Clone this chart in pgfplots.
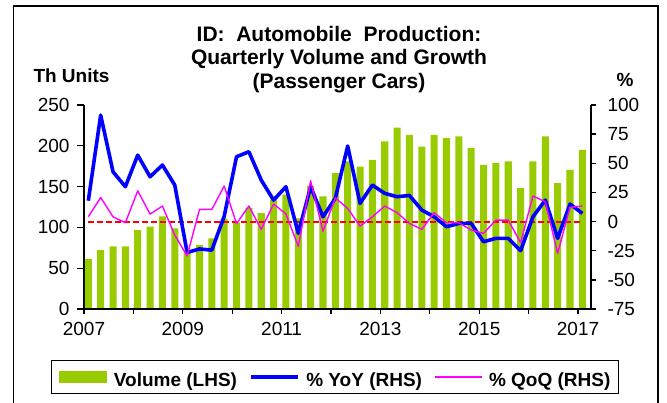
\documentclass[border=0pt]{standalone}
\usepackage{fontspec}
\setmainfont{Liberation Sans}
\usepackage{pgfplots}
\usepackage{pgfplotstable}
\pgfplotsset{compat=1.18}
\definecolor{vol}{HTML}{99CC00}
\definecolor{yoy}{HTML}{0000FF}
\definecolor{qoq}{HTML}{FF00FF}
\definecolor{zred}{RGB}{255,0,0}

% quarterly data, 2007Q1 = 0 ... 2017Q1 = 40
\pgfplotstableread{
i   vol    yoy    qoq
0   61.2   17.9   4.1
1   72.2   91.3   20.7
2   76.7   42.7   4.1
3   76.7   29.9   -1.0
4   96.7   57.0   26.4
5   101.0  38.4   6.4
6   113.4  48.5   13.3
7   98.7   31.3   -11.6
8   70.0   -26.5  -29.5
9   78.5   -23.5  10.4
10  86.5   -24.5  10.4
11  110.8  4.5    30.5
12  106.0  55.6   -1.8
13  123.7  59.9   13.3
14  117.5  35.6   -6.7
15  133.8  18.4   15.0
16  140.2  29.9   6.6
17  111.0  -10.1  -21.3
18  151.0  29.9   35.0
19  137.9  4.1    -8.3
20  166.5  20.0   20.3
21  181.0  64.8   11.3
22  174.6  15.6   -3.9
23  182.8  31.3   4.1
24  205.3  24.2   13.3
25  222.4  21.3   7.6
26  213.4  22.4   -1.6
27  199.1  9.9    -6.7
28  213.4  4.1    7.6
29  209.3  -4.4   -1.0
30  211.4  -1.6   -1.0
31  197.1  -1.6   -7.3
32  176.7  -17.3  -10.1
33  178.7  -14.4  1.3
34  180.8  -14.4  1.3
35  148.1  -25.0  -18.2
36  180.8  4.1    21.9
37  211.4  18.4   17.0
38  154.3  -14.4  -27.3
39  170.6  15.0   12.2
40  195.0  7.0    13.3
}\data

\pgfplotstableread{
x y
0 0
40 0
}\zeroline

\pgfplotsset{
  common/.style={
    at={(84pt,94pt)}, anchor=south west, scale only axis,
    width=507pt, height=204pt,
    xmin=-0.35, xmax=40.7,
    tick align=outside,
    axis line style={line width=1.3pt,-},
    tick style={line width=1.3pt,black},
    ticklabel style={font=\fontsize{19}{22}\selectfont},
    /pgf/number format/assume math mode=true,
  },
  lineleg/.style={legend image code/.code={\draw[##1] (0pt,0pt) -- (47pt,0pt);}},
  barleg/.style={legend image code/.code={\fill[vol] (0pt,-5.35pt) rectangle (46.7pt,5.35pt);}},
}

\begin{document}
\begin{tikzpicture}[x=1pt,y=1pt]
\useasboundingbox (0,0) rectangle (667,403);
\draw[line width=1.2pt] (13.7,-10) -- (13.7,397) -- (658,397) -- (658,-10);

\node[anchor=base,font=\fontsize{21}{24}\bfseries\selectfont] at (339,361.5) {ID:\ \ Automobile\ \ Production:};
\node[anchor=base,font=\fontsize{21}{24}\bfseries\selectfont] at (339,338) {Quarterly Volume and Growth};
\node[anchor=base,font=\fontsize{21}{24}\bfseries\selectfont] at (339,314.5) {(Passenger Cars)};
\node[anchor=base west,inner sep=0pt,font=\fontsize{19}{22}\bfseries\selectfont] at (33.3,320.3) {Th Units};
\node[anchor=base,inner sep=0pt,font=\fontsize{19}{22}\bfseries\selectfont] at (625,316) {\%};

% left axis: volume bars
\begin{axis}[common,
  ymin=0, ymax=250, ytick={0,50,...,250},
  axis x line=none, axis y line*=left,
  major tick length=7pt, xtick=\empty,
  yticklabel style={xshift=-4pt},
  ybar, bar width=0.57,
]
\addplot[fill=vol, draw=none] table[x=i,y=vol]{\data};
\end{axis}

% right axis: growth lines
\begin{axis}[common,
  ymin=-75, ymax=100, ytick={-75,-50,...,100},
  axis y line*=right, axis x line*=bottom,
  major tick length=5pt,
  xtick={-0.35,3.65,7.65,11.65,15.65,19.65,23.65,27.65,31.65,35.65,39.65},
  xticklabels={2007,,2009,,2011,,2013,,2015,,2017},
  xticklabel style={yshift=-5pt},
  yticklabel style={xshift=8pt},
  legend columns=3,
  legend style={at={(0.4949,-0.25)}, anchor=north, draw=black, line width=1.2pt,
    font=\fontsize{19}{22}\bfseries\selectfont,
    inner xsep=8pt, inner ysep=7pt,
    nodes={inner sep=0pt, text height=19pt, text depth=0pt},
    cells={anchor=west},
    /tikz/every odd column/.append style={column sep=6.6pt},
    /tikz/every even column/.append style={column sep=12pt}},
]
\addlegendimage{barleg}
\addlegendentry{Volume (LHS)}
\addplot[draw=zred, line width=2pt, dash pattern=on 6pt off 3pt, forget plot] table[x=x,y=y]{\zeroline};
\addplot[yoy, line width=3.6pt, line join=round, lineleg] table[x=i,y=yoy]{\data};
\addlegendentry{\% YoY (RHS)}
\addplot[qoq, line width=1.4pt, line join=round, lineleg] table[x=i,y=qoq]{\data};
\addlegendentry{\% QoQ (RHS)}
\end{axis}
\end{tikzpicture}
\end{document}
